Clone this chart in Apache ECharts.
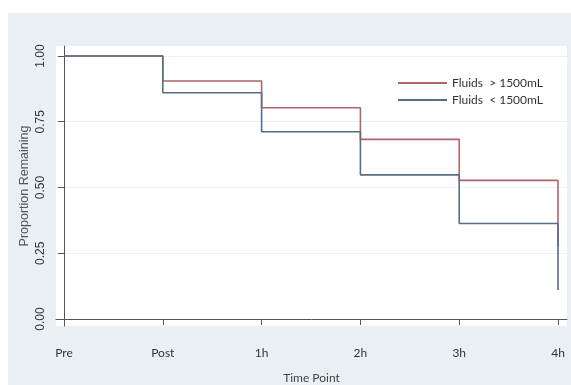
<!DOCTYPE html>
<html>
<head>
<meta charset="utf-8">
<script src="https://cdn.jsdelivr.net/npm/echarts@6/dist/echarts.min.js"></script>
<style>
html,body{margin:0;padding:0;background:#ffffff;}
#chart{width:571px;height:385px;}
</style>
</head>
<body>
<div id="chart"></div>
<script>
var categories = ['Pre', 'Post', '1h', '2h', '3h', '4h'];
var yTicks = [0, 0.25, 0.5, 0.75, 1];
var seriesNames = ['Fluids  > 1500mL', 'Fluids  < 1500mL'];
var fluidsHigh = [1.00, 0.905, 0.803, 0.683, 0.527, 0.275];
var fluidsLow = [1.00, 0.860, 0.712, 0.548, 0.363, 0.110];

function toPoints(vals) {
  return vals.map(function (v, i) { return [i, v]; });
}

var chart = echarts.init(document.getElementById('chart'), null, {renderer: 'canvas'});
var option = {
  animation: false,
  backgroundColor: '#ffffff',
  graphic: [{
    type: 'rect', z: -10, silent: true,
    shape: {x: 8, y: 13, width: 563, height: 372},
    style: {fill: '#e9eff2'}
  }],
  grid: {
    left: 56, right: 4, top: 46, bottom: 59,
    containLabel: false,
    outerBoundsMode: 'none',
    show: true, backgroundColor: '#ffffff', borderWidth: 0
  },
  legend: {
    orient: 'vertical',
    left: 393, top: 72,
    icon: 'rect',
    itemWidth: 49, itemHeight: 2,
    itemGap: 5,
    textStyle: {fontFamily: 'Lato', fontSize: 12, color: '#333'},
    data: seriesNames
  },
  xAxis: {
    type: 'value',
    min: -0.081, max: 5.091,
    name: 'Time Point',
    nameLocation: 'middle',
    nameGap: 46,
    nameMoveOverlap: false,
    nameTextStyle: {fontFamily: 'Lato', fontSize: 12, color: '#444'},
    axisLine: {show: true, lineStyle: {color: '#555', width: 1}},
    axisTick: {show: true, length: 6, lineStyle: {color: '#555'}, customValues: [0, 1, 2, 3, 4, 5]},
    axisLabel: {
      customValues: [0, 1, 2, 3, 4, 5],
      margin: 21,
      fontFamily: 'Lato', fontSize: 12, color: '#333',
      formatter: function (v) { return categories[Math.round(v)]; }
    },
    splitLine: {show: false}
  },
  yAxis: {
    type: 'value',
    min: -0.0266, max: 1.038,
    name: 'Proportion Remaining',
    nameLocation: 'middle',
    nameGap: 25,
    nameMoveOverlap: false,
    nameTextStyle: {fontFamily: 'Liberation Sans', fontSize: 12.5, color: '#555'},
    axisLine: {show: true, lineStyle: {color: '#555', width: 1}},
    axisTick: {show: true, length: 6, lineStyle: {color: '#555'}, customValues: yTicks},
    axisLabel: {
      customValues: yTicks,
      rotate: 90,
      margin: 9,
      fontFamily: 'Liberation Sans', fontSize: 12, color: '#333',
      formatter: function (v) { return v.toFixed(2); }
    },
    splitLine: {show: true, lineStyle: {color: '#edf1f3', width: 1}}
  },
  series: [
    {
      name: seriesNames[0], type: 'line', step: 'end', symbol: 'none',
      lineStyle: {color: '#b0636b', width: 1.6},
      itemStyle: {color: '#b0636b'},
      data: toPoints(fluidsHigh), z: 2
    },
    {
      name: seriesNames[1], type: 'line', step: 'end', symbol: 'none',
      lineStyle: {color: '#566e86', width: 1.6},
      itemStyle: {color: '#566e86'},
      data: toPoints(fluidsLow), z: 3
    }
  ]
};
chart.setOption(option);
</script>
</body>
</html>
